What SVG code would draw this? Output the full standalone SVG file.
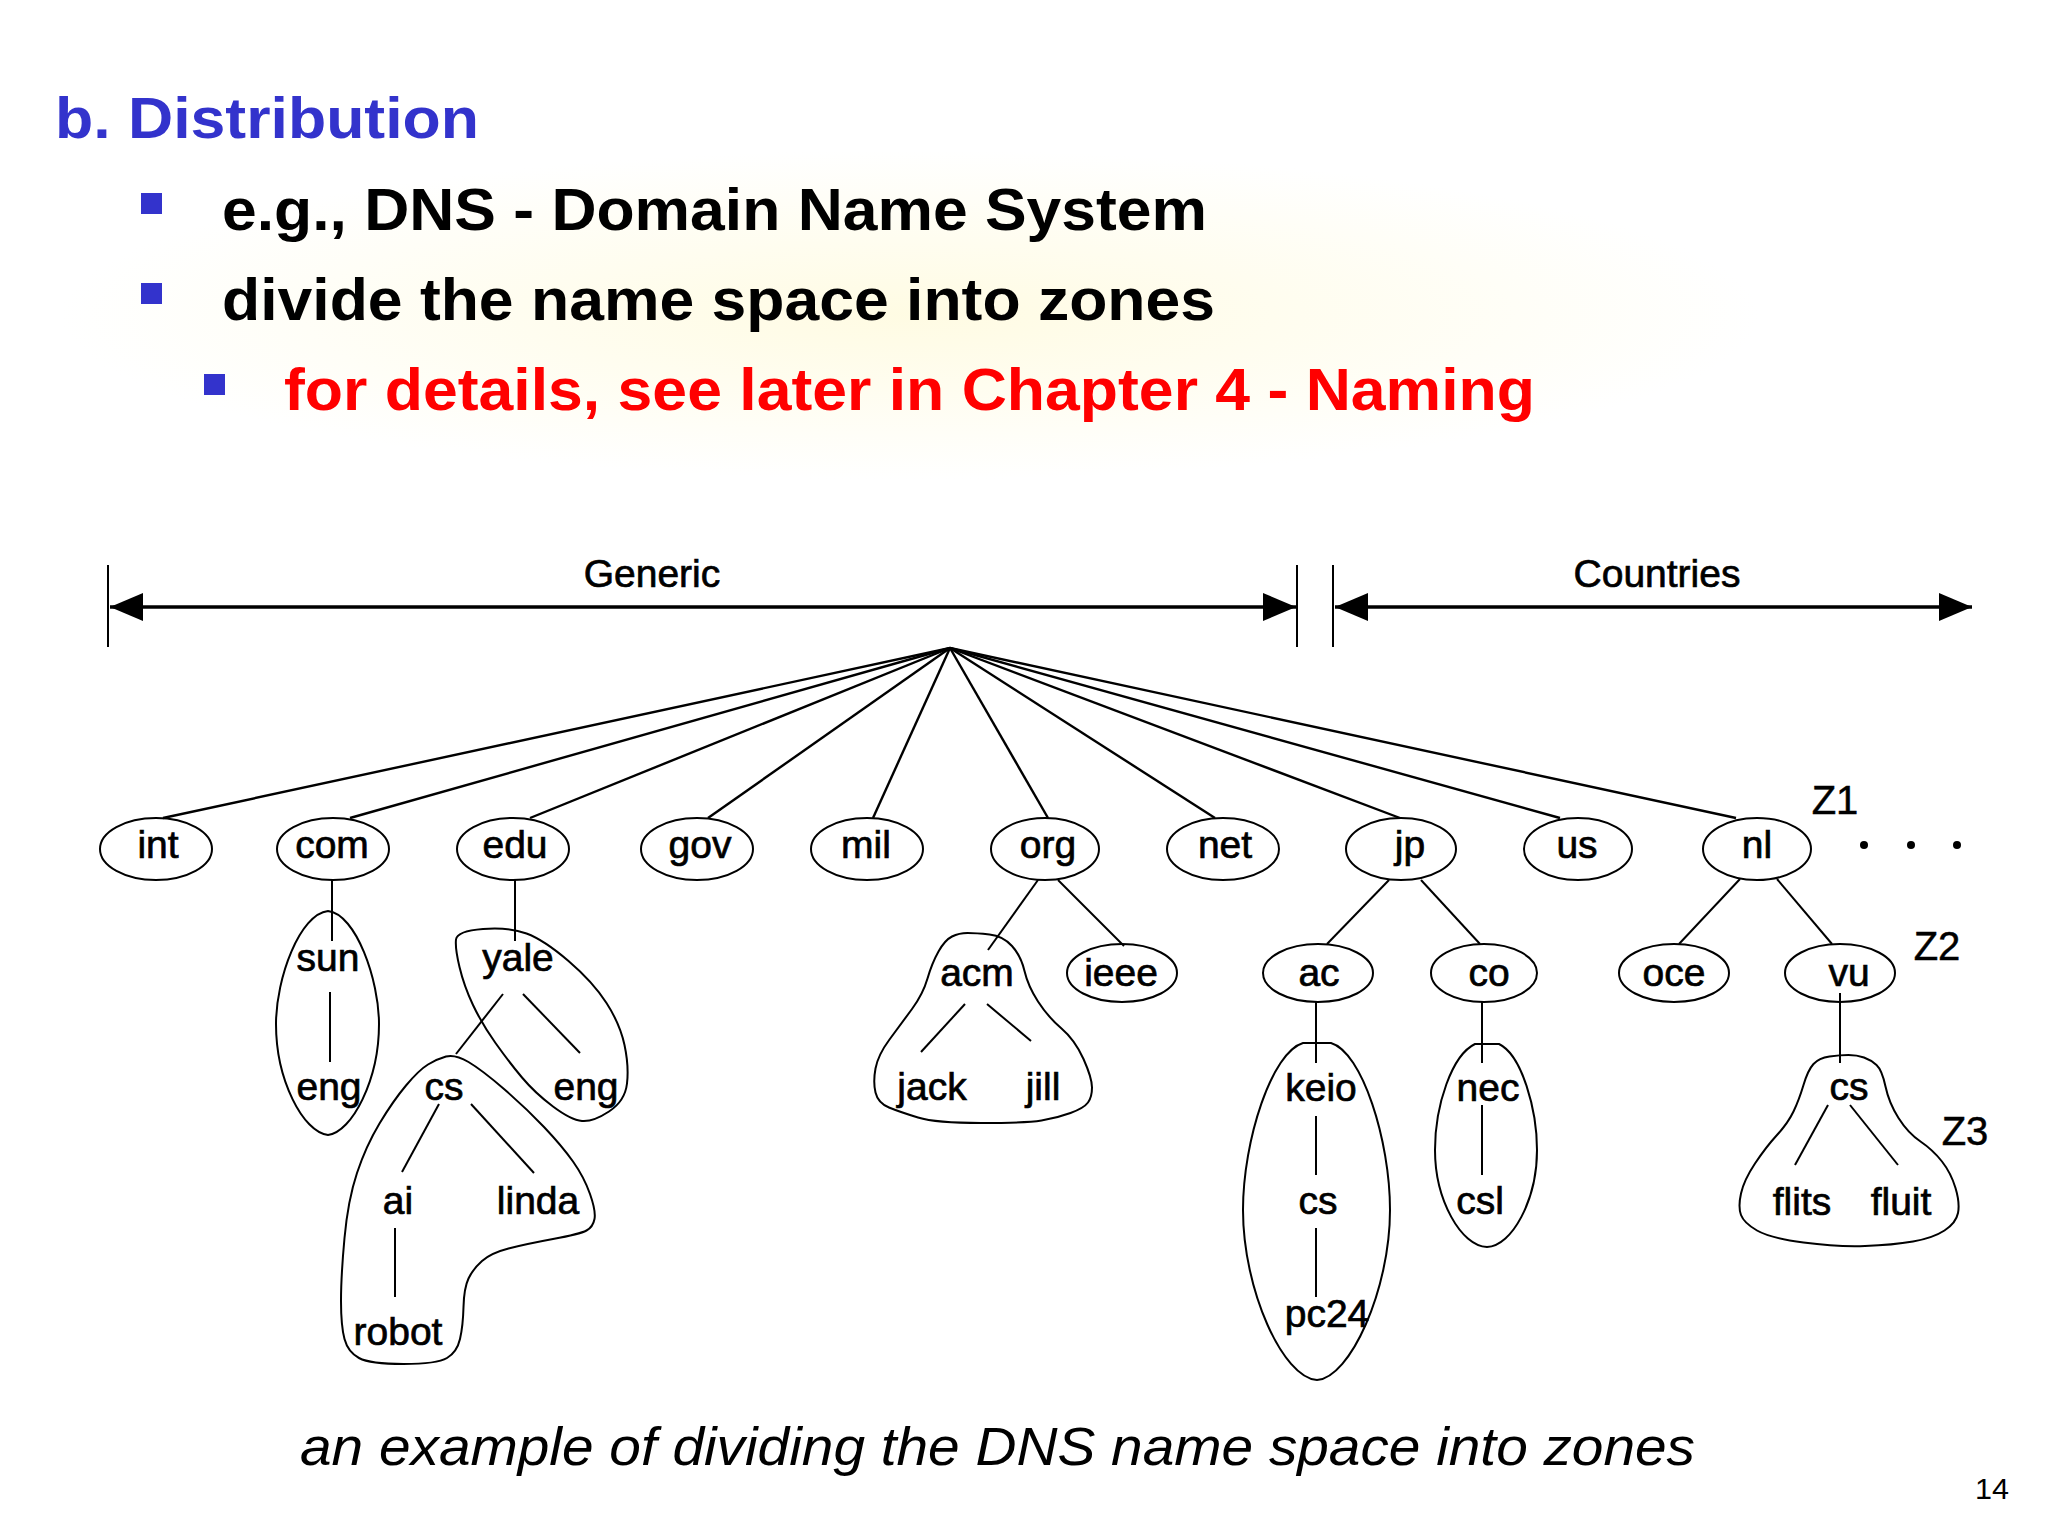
<svg xmlns="http://www.w3.org/2000/svg" width="2048" height="1536" viewBox="0 0 2048 1536">
<style>
.bg{fill:#ffffff}
.hd{font-family:"Liberation Sans",Arial,sans-serif;font-weight:bold}
.lbl{font-family:"Liberation Sans",Arial,sans-serif;font-size:39px;text-anchor:middle;fill:#000;stroke:#000;stroke-width:0.7}
.z{font-family:"Liberation Sans",Arial,sans-serif;font-size:40px;text-anchor:middle;fill:#000;stroke:#000;stroke-width:0.5}
.ov{fill:none;stroke:#000;stroke-width:2}
.zone{fill:none;stroke:#000;stroke-width:2;stroke-linejoin:round}
.edge{stroke:#000;stroke-width:2;fill:none}
.fan{stroke:#000;stroke-width:2.4;fill:none}
.tick{stroke:#000;stroke-width:2}
.axis{stroke:#000;stroke-width:3.5;fill:none}
.blt{fill:#3333cc}
</style>
<defs>
<marker id="ah" markerUnits="userSpaceOnUse" markerWidth="34" markerHeight="28" refX="33" refY="14" orient="auto-start-reverse">
<path d="M0,0 L33,14 L0,28 Z" fill="#000"/>
</marker>
<radialGradient id="glow" cx="0.5" cy="0.5" r="0.5">
<stop offset="0" stop-color="#fffbe0" stop-opacity="0.9"/>
<stop offset="1" stop-color="#fffbe0" stop-opacity="0"/>
</radialGradient>
</defs>
<rect class="bg" x="0" y="0" width="2048" height="1536"/>
<rect x="60" y="150" width="1700" height="330" fill="url(#glow)"/>

<g id="heading">
<text class="hd" x="55" y="138" font-size="58" fill="#3333cc" textLength="424" lengthAdjust="spacingAndGlyphs">b. Distribution</text>
<rect class="blt" x="141" y="193" width="21" height="21"/>
<text class="hd" x="222" y="230" font-size="60" fill="#000" textLength="985" lengthAdjust="spacingAndGlyphs">e.g., DNS - Domain Name System</text>
<rect class="blt" x="141" y="283" width="21" height="21"/>
<text class="hd" x="222" y="320" font-size="60" fill="#000" textLength="993" lengthAdjust="spacingAndGlyphs">divide the name space into zones</text>
<rect class="blt" x="204" y="374" width="21" height="21"/>
<text class="hd" x="284" y="410" font-size="60" fill="#ff0000" textLength="1251" lengthAdjust="spacingAndGlyphs">for details, see later in Chapter 4 - Naming</text>
</g>

<g id="scale">
<line class="tick" x1="108" y1="565" x2="108" y2="647"/>
<line class="tick" x1="1297" y1="565" x2="1297" y2="647"/>
<line class="tick" x1="1333" y1="565" x2="1333" y2="647"/>
<line class="axis" x1="110" y1="607" x2="1296" y2="607" marker-start="url(#ah)" marker-end="url(#ah)"/>
<line class="axis" x1="1335" y1="607" x2="1972" y2="607" marker-start="url(#ah)" marker-end="url(#ah)"/>
<text class="lbl" x="652" y="587">Generic</text>
<text class="lbl" x="1657" y="587">Countries</text>
</g>

<g id="connectors">
<line class="fan" x1="950" y1="648" x2="163" y2="818"/>
<line class="fan" x1="950" y1="648" x2="350" y2="818"/>
<line class="fan" x1="950" y1="648" x2="530" y2="818"/>
<line class="fan" x1="950" y1="648" x2="708" y2="818"/>
<line class="fan" x1="950" y1="648" x2="873" y2="818"/>
<line class="fan" x1="950" y1="648" x2="1048" y2="818"/>
<line class="fan" x1="950" y1="648" x2="1215" y2="818"/>
<line class="fan" x1="950" y1="648" x2="1400" y2="818"/>
<line class="fan" x1="950" y1="648" x2="1560" y2="818"/>
<line class="fan" x1="950" y1="648" x2="1736" y2="818"/>
<line class="edge" x1="332" y1="880" x2="332" y2="941"/>
<line class="edge" x1="330" y1="992" x2="330" y2="1062"/>
<line class="edge" x1="515" y1="880" x2="515" y2="941"/>
<line class="edge" x1="503" y1="994" x2="456" y2="1054"/>
<line class="edge" x1="523" y1="994" x2="580" y2="1053"/>
<line class="edge" x1="439" y1="1104" x2="402" y2="1172"/>
<line class="edge" x1="471" y1="1104" x2="534" y2="1173"/>
<line class="edge" x1="395" y1="1228" x2="395" y2="1297"/>
<line class="edge" x1="1038" y1="880" x2="988" y2="950"/>
<line class="edge" x1="1058" y1="880" x2="1124" y2="946"/>
<line class="edge" x1="965" y1="1004" x2="921" y2="1052"/>
<line class="edge" x1="987" y1="1004" x2="1031" y2="1041"/>
<line class="edge" x1="1389" y1="880" x2="1327" y2="944"/>
<line class="edge" x1="1421" y1="880" x2="1480" y2="944"/>
<line class="edge" x1="1316" y1="1002" x2="1316" y2="1063"/>
<line class="edge" x1="1316" y1="1116" x2="1316" y2="1175"/>
<line class="edge" x1="1316" y1="1228" x2="1316" y2="1297"/>
<line class="edge" x1="1482" y1="1002" x2="1482" y2="1063"/>
<line class="edge" x1="1482" y1="1105" x2="1482" y2="1175"/>
<line class="edge" x1="1740" y1="879" x2="1679" y2="944"/>
<line class="edge" x1="1777" y1="879" x2="1832" y2="944"/>
<line class="edge" x1="1840" y1="993" x2="1840" y2="1063"/>
<line class="edge" x1="1828" y1="1105" x2="1795" y2="1165"/>
<line class="edge" x1="1850" y1="1105" x2="1898" y2="1165"/>
</g>

<g id="zones">
<path id="zone-sun" class="zone" d="M328,911 C356,914 379,980 379,1024 C379,1080 352,1132 328,1135 C303,1132 276,1080 276,1024 C276,978 300,914 328,911 Z"/>
<path id="zone-yale" class="zone" d="M483,929 Q509,927 526.5,933.5 Q544,940 568.5,961 Q593,982 606.5,1003 Q620,1024 624.5,1045 Q629,1066 627,1083.5 Q625,1101 609,1111.5 Q593,1122 582,1121 Q571,1120 553,1106.5 Q535,1093 522,1077.5 Q509,1062 495.5,1043 Q482,1024 473,1005 Q464,986 459.5,967 Q455,948 456,939.5 Q457,931 483,929 Z"/>
<path id="zone-cs" class="zone" d="M468.5,1062 Q482,1070 504,1089 Q526,1108 544,1127 Q562,1146 573,1161.5 Q584,1177 590,1194 Q596,1211 594.5,1219 Q593,1227 586.5,1230.5 Q580,1234 553,1239 Q526,1244 508.5,1248.5 Q491,1253 482,1261 Q473,1269 468.5,1278.5 Q464,1288 463.5,1307 Q463,1326 460,1339 Q457,1352 447,1358 Q437,1364 403.5,1364 Q370,1364 359,1358 Q348,1352 344.5,1339 Q341,1326 341,1301 Q341,1276 344.5,1238 Q348,1200 357,1173 Q366,1146 379.5,1123.5 Q393,1101 406,1085.5 Q419,1070 428,1064.5 Q437,1059 446,1056.5 Q455,1054 468.5,1062 Z"/>
<path id="zone-acm" class="zone" d="M989.5,934.5 Q1003,936 1012,946 Q1021,956 1024.5,971 Q1028,986 1038,1001.5 Q1048,1017 1061.5,1028.5 Q1075,1040 1083.5,1059 Q1092,1078 1092,1087.5 Q1092,1097 1088,1102.5 Q1084,1108 1070.5,1113 Q1057,1118 1041.5,1120.5 Q1026,1123 981,1123 Q936,1123 918,1117.5 Q900,1112 889,1107.5 Q878,1103 875.5,1092.5 Q873,1082 875.5,1068.5 Q878,1055 889.5,1039.5 Q901,1024 912,1009 Q923,994 927.5,978.5 Q932,963 938.5,951.5 Q945,940 952,936.5 Q959,933 967.5,933 Q976,933 989.5,934.5 Z"/>
<path id="zone-keio" class="zone" d="M1303,1043 L1331,1043 C1362,1052 1390,1140 1390,1210 C1390,1290 1350,1378 1317,1380 C1283,1378 1243,1290 1243,1210 C1243,1140 1272,1052 1303,1043 Z"/>
<path id="zone-nec" class="zone" d="M1475,1044 L1499,1044 C1522,1055 1537,1110 1537,1150 C1537,1200 1512,1246 1487,1247 C1461,1246 1435,1200 1435,1150 C1435,1105 1452,1055 1475,1044 Z"/>
<path id="zone-vucs" class="zone" d="M1829.5,1056.5 Q1819,1058 1813.5,1064 Q1808,1070 1803.5,1085 Q1799,1100 1793.5,1111.5 Q1788,1123 1777,1135 Q1766,1147 1755,1163.5 Q1744,1180 1741,1193.5 Q1738,1207 1741,1215 Q1744,1223 1757,1230.5 Q1770,1238 1803.5,1242.5 Q1837,1247 1865,1246 Q1893,1245 1913,1241.5 Q1933,1238 1944.5,1230.5 Q1956,1223 1958,1213 Q1960,1203 1955.5,1188 Q1951,1173 1942,1161.5 Q1933,1150 1920.5,1141.5 Q1908,1133 1898.5,1118 Q1889,1103 1885.5,1086.5 Q1882,1070 1876.5,1065 Q1871,1060 1864,1057.5 Q1857,1055 1848.5,1055 Q1840,1055 1829.5,1056.5 Z"/>
</g>

<g id="node-int"><ellipse class="ov" cx="156" cy="849" rx="56" ry="31"/><text class="lbl" x="158" y="858">int</text></g>
<g id="node-com"><ellipse class="ov" cx="333" cy="849" rx="56" ry="31"/><text class="lbl" x="332" y="858">com</text></g>
<g id="node-edu"><ellipse class="ov" cx="513" cy="849" rx="56" ry="31"/><text class="lbl" x="515" y="858">edu</text></g>
<g id="node-gov"><ellipse class="ov" cx="697" cy="849" rx="56" ry="31"/><text class="lbl" x="700" y="858">gov</text></g>
<g id="node-mil"><ellipse class="ov" cx="867" cy="849" rx="56" ry="31"/><text class="lbl" x="866" y="858">mil</text></g>
<g id="node-org"><ellipse class="ov" cx="1045" cy="849" rx="54" ry="31"/><text class="lbl" x="1048" y="858">org</text></g>
<g id="node-net"><ellipse class="ov" cx="1223" cy="849" rx="56" ry="31"/><text class="lbl" x="1225" y="858">net</text></g>
<g id="node-jp"><ellipse class="ov" cx="1401" cy="849" rx="55" ry="31"/><text class="lbl" x="1410" y="858">jp</text></g>
<g id="node-us"><ellipse class="ov" cx="1578" cy="849" rx="54" ry="31"/><text class="lbl" x="1577" y="858">us</text></g>
<g id="node-nl"><ellipse class="ov" cx="1757" cy="849" rx="54" ry="31"/><text class="lbl" x="1757" y="858">nl</text></g>

<g id="node-sun"><text class="lbl" x="328" y="971">sun</text></g>
<g id="node-sun-eng"><text class="lbl" x="329" y="1100">eng</text></g>
<g id="node-yale"><text class="lbl" x="518" y="971">yale</text></g>
<g id="node-yale-eng"><text class="lbl" x="586" y="1100">eng</text></g>
<g id="node-yale-cs"><text class="lbl" x="444" y="1100">cs</text></g>
<g id="node-ai"><text class="lbl" x="398" y="1214">ai</text></g>
<g id="node-linda"><text class="lbl" x="538" y="1214">linda</text></g>
<g id="node-robot"><text class="lbl" x="398" y="1345">robot</text></g>

<g id="node-acm"><text class="lbl" x="977" y="986">acm</text></g>
<g id="node-ieee"><ellipse class="ov" cx="1122" cy="973" rx="55" ry="29"/><text class="lbl" x="1121" y="986">ieee</text></g>
<g id="node-jack"><text class="lbl" x="932" y="1100">jack</text></g>
<g id="node-jill"><text class="lbl" x="1043" y="1100">jill</text></g>

<g id="node-ac"><ellipse class="ov" cx="1318" cy="973" rx="55" ry="29"/><text class="lbl" x="1319" y="986">ac</text></g>
<g id="node-co"><ellipse class="ov" cx="1484" cy="973" rx="53" ry="29"/><text class="lbl" x="1489" y="986">co</text></g>
<g id="node-keio"><text class="lbl" x="1321" y="1101">keio</text></g>
<g id="node-keio-cs"><text class="lbl" x="1318" y="1214">cs</text></g>
<g id="node-pc24"><text class="lbl" x="1327" y="1327">pc24</text></g>
<g id="node-nec"><text class="lbl" x="1488" y="1101">nec</text></g>
<g id="node-csl"><text class="lbl" x="1480" y="1214">csl</text></g>

<g id="node-oce"><ellipse class="ov" cx="1674" cy="973" rx="55" ry="29"/><text class="lbl" x="1674" y="986">oce</text></g>
<g id="node-vu"><ellipse class="ov" cx="1840" cy="973" rx="55" ry="29"/><text class="lbl" x="1849" y="986">vu</text></g>
<g id="node-vu-cs"><text class="lbl" x="1849" y="1100">cs</text></g>
<g id="node-flits"><text class="lbl" x="1802" y="1215">flits</text></g>
<g id="node-fluit"><text class="lbl" x="1901" y="1215">fluit</text></g>

<g id="zone-labels">
<text class="z" x="1835" y="814">Z1</text>
<text class="z" x="1937" y="960">Z2</text>
<text class="z" x="1965" y="1145">Z3</text>
<circle cx="1864" cy="845" r="4"/>
<circle cx="1911" cy="845" r="4"/>
<circle cx="1957" cy="845" r="4"/>
</g>

<g id="caption">
<text x="300" y="1465" font-family="Liberation Sans, Arial, sans-serif" font-style="italic" font-size="54" textLength="1395" lengthAdjust="spacingAndGlyphs" fill="#000">an example of dividing the DNS name space into zones</text>
<text x="1975" y="1499" font-family="Liberation Sans, Arial, sans-serif" font-size="30" textLength="34" lengthAdjust="spacingAndGlyphs" fill="#000">14</text>
</g>
</svg>
